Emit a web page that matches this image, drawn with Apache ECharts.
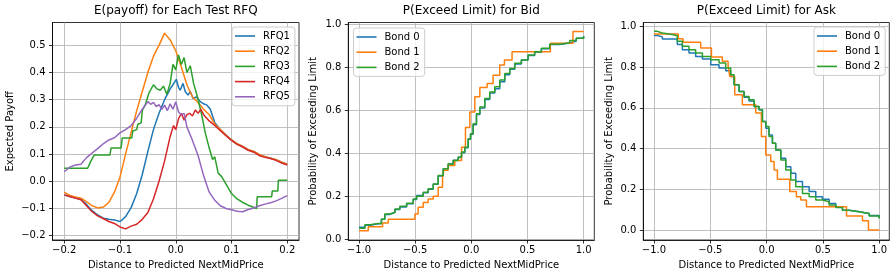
<!DOCTYPE html>
<html><head><meta charset="utf-8">
<script src="https://cdn.jsdelivr.net/npm/echarts@6/dist/echarts.min.js"></script>
<style>html,body{margin:0;padding:0;background:#fff}#c{width:896px;height:278px}</style>
</head><body><div id="c"></div>
<script>
// ---------- Chart 1: E(payoff) ----------
const payX = [-0.2,-0.19,-0.18,-0.17,-0.16,-0.15,-0.14,-0.13,-0.12,-0.11,-0.1,-0.09,-0.08,-0.07,-0.06,-0.05,-0.04,-0.03,-0.02,-0.01,0,0.01,0.02,0.03,0.04,0.05,0.06,0.07,0.08,0.09,0.1,0.11,0.12,0.13,0.14,0.15,0.16,0.17,0.18,0.19,0.2];
const rfq1X = [-0.2,-0.19,-0.18,-0.17,-0.16,-0.15,-0.14,-0.13,-0.12,-0.11,-0.1,-0.095,-0.09,-0.08,-0.07,-0.06,-0.05,-0.04,-0.03,-0.02,-0.01,-0.005,0.001,0.005,0.008,0.013,0.017,0.022,0.026,0.031,0.037,0.044,0.05,0.056,0.062,0.07,0.08,0.09,0.1,0.11,0.12,0.13,0.14,0.15,0.16,0.17,0.18,0.19,0.2];
const rfq1 = [-0.05,-0.056,-0.062,-0.066,-0.085,-0.108,-0.124,-0.136,-0.14,-0.142,-0.148,-0.14,-0.13,-0.097,-0.045,0.025,0.11,0.19,0.25,0.3,0.34,0.355,0.375,0.345,0.335,0.36,0.33,0.317,0.33,0.305,0.31,0.293,0.285,0.28,0.265,0.215,0.19,0.17,0.152,0.138,0.128,0.116,0.11,0.098,0.09,0.085,0.079,0.07,0.063];
const rfq2 = [-0.04,-0.052,-0.058,-0.062,-0.075,-0.09,-0.098,-0.095,-0.078,-0.04,0.015,0.1,0.18,0.26,0.33,0.4,0.46,0.5,0.545,0.52,0.48,0.42,0.355,0.31,0.29,0.265,0.245,0.21,0.19,0.17,0.152,0.138,0.128,0.116,0.11,0.098,0.09,0.085,0.079,0.07,0.063];
const rfq3X = [-0.2,-0.158,-0.152,-0.146,-0.118,-0.116,-0.098,-0.096,-0.079,-0.077,-0.07,-0.068,-0.062,-0.06,-0.055,-0.048,-0.04,-0.034,-0.028,-0.022,-0.016,-0.01,-0.005,0,0.005,0.01,0.015,0.02,0.026,0.032,0.039,0.047,0.053,0.059,0.066,0.07,0.076,0.082,0.09,0.1,0.11,0.12,0.13,0.145,0.146,0.172,0.173,0.183,0.184,0.2];
const rfq3 = [0.048,0.048,0.075,0.097,0.097,0.122,0.122,0.159,0.159,0.185,0.19,0.21,0.215,0.26,0.28,0.325,0.355,0.34,0.335,0.35,0.32,0.36,0.43,0.41,0.465,0.43,0.455,0.4,0.425,0.36,0.31,0.24,0.178,0.13,0.08,0.09,0.03,0.018,-0.01,-0.045,-0.065,-0.078,-0.088,-0.1,-0.057,-0.057,-0.036,-0.036,0.004,0.004];
const rfq4X = [-0.2,-0.19,-0.18,-0.17,-0.16,-0.15,-0.14,-0.13,-0.12,-0.11,-0.1,-0.09,-0.08,-0.07,-0.06,-0.05,-0.04,-0.03,-0.02,-0.01,-0.004,0,0.005,0.01,0.015,0.02,0.025,0.03,0.035,0.04,0.045,0.05,0.06,0.07,0.08,0.09,0.1,0.11,0.12,0.13,0.14,0.15,0.16,0.17,0.18,0.19,0.2];
const rfq4 = [-0.05,-0.056,-0.062,-0.068,-0.09,-0.112,-0.127,-0.137,-0.148,-0.155,-0.168,-0.175,-0.165,-0.158,-0.14,-0.115,-0.065,0.0,0.075,0.165,0.205,0.19,0.23,0.25,0.225,0.245,0.25,0.24,0.262,0.25,0.265,0.245,0.222,0.205,0.186,0.168,0.15,0.136,0.126,0.114,0.107,0.094,0.088,0.084,0.077,0.067,0.06];
const rfq5X = [-0.2,-0.19,-0.18,-0.17,-0.16,-0.15,-0.14,-0.13,-0.12,-0.11,-0.1,-0.09,-0.08,-0.07,-0.06,-0.05,-0.045,-0.04,-0.035,-0.03,-0.025,-0.02,-0.015,-0.01,-0.005,0,0.005,0.01,0.015,0.02,0.03,0.04,0.05,0.06,0.07,0.08,0.09,0.1,0.11,0.12,0.13,0.14,0.15,0.16,0.17,0.18,0.19,0.2];
const rfq5 = [0.035,0.052,0.06,0.063,0.087,0.104,0.12,0.138,0.152,0.16,0.178,0.19,0.205,0.232,0.265,0.293,0.283,0.29,0.275,0.282,0.265,0.28,0.26,0.285,0.265,0.292,0.255,0.245,0.25,0.2,0.15,0.095,0.02,-0.04,-0.07,-0.09,-0.1,-0.105,-0.11,-0.112,-0.104,-0.098,-0.09,-0.084,-0.079,-0.072,-0.063,-0.053];
const payXTicks = [-0.2,-0.1,0,0.1,0.2];
const payYTicks = [-0.2,-0.1,0,0.1,0.2,0.3,0.4,0.5];

// ---------- Chart 2: P(Exceed Limit) for Bid ----------
const bidX02 = [-1.0,-0.947,-0.9,-0.83,-0.8,-0.77,-0.724,-0.68,-0.636,-0.576,-0.517,-0.487,-0.428,-0.384,-0.339,-0.295,-0.25,-0.206,-0.161,-0.117,-0.087,-0.058,-0.028,-0.007,0.016,0.046,0.076,0.12,0.164,0.209,0.253,0.298,0.342,0.387,0.446,0.505,0.564,0.624,0.698,0.787,0.876,0.935,1.0];
const bidB0 = [0.055,0.065,0.072,0.072,0.092,0.115,0.124,0.138,0.15,0.165,0.185,0.203,0.216,0.232,0.255,0.294,0.327,0.35,0.367,0.38,0.402,0.425,0.465,0.488,0.532,0.58,0.61,0.65,0.68,0.7,0.732,0.765,0.79,0.815,0.833,0.855,0.87,0.886,0.906,0.913,0.922,0.935,0.943];
const bidB2 = [0.051,0.067,0.073,0.073,0.093,0.117,0.125,0.14,0.153,0.167,0.187,0.2,0.218,0.234,0.257,0.296,0.327,0.35,0.366,0.382,0.405,0.428,0.467,0.49,0.537,0.584,0.615,0.654,0.685,0.709,0.74,0.771,0.794,0.818,0.833,0.857,0.872,0.888,0.907,0.914,0.924,0.935,0.945];
const bidX1 = [-1.0,-0.917,-0.79,-0.739,-0.502,-0.473,-0.428,-0.384,-0.339,-0.295,-0.256,-0.244,-0.206,-0.147,-0.087,-0.052,-0.013,0.031,0.076,0.141,0.194,0.253,0.295,0.363,0.704,0.905,1.0];
const bidB1 = [0.039,0.058,0.075,0.093,0.117,0.148,0.171,0.187,0.2,0.241,0.288,0.32,0.343,0.366,0.428,0.52,0.592,0.662,0.705,0.724,0.763,0.81,0.833,0.872,0.911,0.966,0.966];

// ---------- Chart 3: P(Exceed Limit) for Ask ----------
const askX02 = [-1.0,-0.97,-0.926,-0.837,-0.793,-0.748,-0.689,-0.63,-0.57,-0.496,-0.422,-0.363,-0.319,-0.289,-0.244,-0.2,-0.156,-0.111,-0.067,-0.037,-0.007,0.022,0.052,0.081,0.126,0.17,0.215,0.259,0.319,0.378,0.437,0.496,0.556,0.615,0.674,0.733,0.822,0.911,1.0];
const askB0 = [0.955,0.948,0.938,0.938,0.91,0.885,0.869,0.852,0.84,0.811,0.795,0.782,0.754,0.713,0.68,0.652,0.634,0.607,0.59,0.533,0.5,0.467,0.426,0.393,0.352,0.311,0.279,0.238,0.213,0.189,0.164,0.151,0.131,0.115,0.098,0.09,0.082,0.072,0.06];
const askB2 = [0.975,0.967,0.96,0.954,0.926,0.902,0.885,0.869,0.852,0.836,0.82,0.795,0.762,0.713,0.68,0.656,0.639,0.607,0.59,0.533,0.508,0.459,0.426,0.393,0.344,0.295,0.246,0.213,0.18,0.164,0.148,0.139,0.123,0.111,0.098,0.09,0.082,0.069,0.057];
const askX1 = [-1.0,-0.784,-0.742,-0.585,-0.49,-0.393,-0.342,-0.327,-0.283,-0.215,-0.096,-0.046,-0.007,0.037,0.067,0.096,0.206,0.265,0.304,0.354,0.71,0.852,0.905,1.0];
const askB1 = [0.962,0.939,0.921,0.893,0.849,0.828,0.807,0.754,0.664,0.615,0.574,0.459,0.369,0.336,0.295,0.25,0.189,0.164,0.148,0.115,0.069,0.046,0.0,0.0];
const probXTicks = [-1.0,-0.5,0,0.5,1.0];
const probYTicks = [0,0.2,0.4,0.6,0.8,1.0];

const C = ['#1f77b4','#ff7f0e','#2ca02c','#d62728','#9467bd'];
const FF = 'DejaVu Sans';
const fmt = d => v => v.toFixed(d).replace('-', '\u2212');
const pairs = (xs, ys) => xs.map((x, i) => [x, ys[i]]);

function xAx(gi, min, max, ticks) {
  return {type:'value', gridIndex:gi, min:min, max:max,
    axisLine:{show:true, onZero:false, lineStyle:{color:'#000', width:0.8}},
    axisTick:{show:true, inside:false, length:3.5, customValues:ticks, lineStyle:{color:'#000', width:0.8}},
    axisLabel:{customValues:ticks, formatter:fmt(1), fontSize:10, color:'#000', fontFamily:FF, margin:5},
    splitLine:{show:true, lineStyle:{color:'#b0b0b0', width:0.8}},
    name:'Distance to Predicted NextMidPrice', nameLocation:'middle', nameGap:20,
    nameTextStyle:{fontSize:10, color:'#000', fontFamily:FF}};
}
function yAx(gi, min, max, ticks, name, gap) {
  return {type:'value', gridIndex:gi, min:min, max:max,
    axisLine:{show:true, onZero:false, lineStyle:{color:'#000', width:0.8}},
    axisTick:{show:true, inside:false, length:3.5, customValues:ticks, lineStyle:{color:'#000', width:0.8}},
    axisLabel:{customValues:ticks, formatter:fmt(1), fontSize:10, color:'#000', fontFamily:FF, margin:7},
    splitLine:{show:true, lineStyle:{color:'#b0b0b0', width:0.8}},
    name:name, nameLocation:'middle', nameGap:gap, nameRotate:90,
    nameTextStyle:{fontSize:10, color:'#000', fontFamily:FF}};
}
function ser(name, gi, data, color, step) {
  const s = {type:'line', name:name, xAxisIndex:gi, yAxisIndex:gi, data:data,
    symbol:'none', lineStyle:{width:1.5, color:color}, itemStyle:{color:color}, animation:false};
  if (step) s.step = 'end';
  return s;
}
function leg(left, top, names) {
  return {orient:'vertical', left:left, top:top, data:names, icon:'rect', itemWidth:20, itemHeight:1.6, itemGap:3.2,
    padding:[3,5,3,3], backgroundColor:'rgba(255,255,255,0.8)', borderColor:'#cccccc', borderWidth:1, borderRadius:3,
    textStyle:{fontSize:10, lineHeight:12, fontFamily:FF, color:'#000', padding:[0,0,0,3]}, selectedMode:false};
}
const ttl = (text, x) => ({text:text, left:x, top:5, textAlign:'center', padding:0,
  textStyle:{fontSize:12, fontWeight:'normal', fontFamily:FF, color:'#000'}});

const chart = echarts.init(document.getElementById('c'), null, {renderer:'canvas'});
chart.setOption({
  animation:false,
  backgroundColor:'#fff',
  title:[ttl('E(payoff) for Each Test RFQ', 175.8), ttl('P(Exceed Limit) for Bid', 471.3), ttl('P(Exceed Limit) for Ask', 766.3)],
  grid:[
    {left:52.5, top:22.5, width:246.5, height:217.5, show:true, borderColor:'#000', borderWidth:0.8},
    {left:348.3, top:22.5, width:246, height:217.5, show:true, borderColor:'#000', borderWidth:0.8},
    {left:643.3, top:22.5, width:246, height:217.5, show:true, borderColor:'#000', borderWidth:0.8}
  ],
  xAxis:[xAx(0,-0.221,0.221,payXTicks), xAx(1,-1.095,1.095,probXTicks), xAx(2,-1.095,1.09,probXTicks)],
  yAxis:[yAx(0,-0.216,0.584,payYTicks,'Expected Payoff',37), yAx(1,-0.004,1.008,probYTicks,'Probability of Exceeding Limit',30), yAx(2,-0.0485,1.0185,probYTicks,'Probability of Exceeding Limit',29)],
  legend:[leg(232,27,['RFQ1','RFQ2','RFQ3','RFQ4','RFQ5']), leg(353.5,28,['Bond 0','Bond 1','Bond 2']), leg(814,27,['Bond 0','Bond 1','Bond 2'])],
  series:[
    ser('RFQ1',0,pairs(rfq1X,rfq1),C[0]),
    ser('RFQ2',0,pairs(payX,rfq2),C[1]),
    ser('RFQ3',0,pairs(rfq3X,rfq3),C[2]),
    ser('RFQ4',0,pairs(rfq4X,rfq4),C[3]),
    ser('RFQ5',0,pairs(rfq5X,rfq5),C[4]),
    ser('Bond 0',1,pairs(bidX02,bidB0),C[0],true),
    ser('Bond 1',1,pairs(bidX1,bidB1),C[1],true),
    ser('Bond 2',1,pairs(bidX02,bidB2),C[2],true),
    ser('Bond 0',2,pairs(askX02,askB0),C[0],true),
    ser('Bond 1',2,pairs(askX1,askB1),C[1],true),
    ser('Bond 2',2,pairs(askX02,askB2),C[2],true)
  ]
});
</script></body></html>
